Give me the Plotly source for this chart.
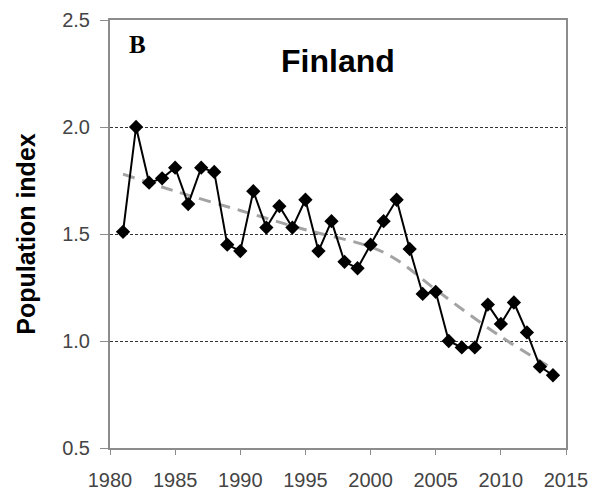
import plotly.graph_objects as go

# Annual population index for Finland
years = list(range(1981, 2015))
index_values = [1.51, 2.00, 1.74, 1.76, 1.81, 1.64, 1.81, 1.79, 1.45, 1.42,
                1.70, 1.53, 1.63, 1.53, 1.66, 1.42, 1.56, 1.37, 1.34, 1.45,
                1.56, 1.66, 1.43, 1.22, 1.23, 1.00, 0.97, 0.97, 1.17, 1.08,
                1.18, 1.04, 0.88, 0.84]

# Smoothed trend through the series
trend_years = [1981, 1985, 1990, 1995, 2000, 2002, 2005, 2010, 2014]
trend_values = [1.78, 1.70, 1.61, 1.52, 1.44, 1.38, 1.24, 1.02, 0.87]

x_ticks = [1980, 1985, 1990, 1995, 2000, 2005, 2010, 2015]
y_ticks = [0.5, 1.0, 1.5, 2.0, 2.5]

fig = go.Figure()

fig.add_trace(go.Scatter(
    x=trend_years, y=trend_values, mode="lines",
    line=dict(color="#a3a3a3", width=3, dash="12px,8px", shape="spline"),
    hoverinfo="skip", showlegend=False,
))

fig.add_trace(go.Scatter(
    x=years, y=index_values, mode="lines+markers",
    line=dict(color="black", width=2),
    marker=dict(symbol="diamond", size=11, color="black"),
    showlegend=False,
))

axis_common = dict(
    showline=True, mirror=True, linecolor="#8c8c8c", linewidth=2,
    ticks="outside", tickcolor="#8c8c8c", tickwidth=1,
    tickfont=dict(family="Liberation Sans, Arial", size=20, color="#444444"),
    zeroline=False, automargin=False,
)

fig.update_xaxes(
    range=[1980, 2015], tickvals=x_ticks, ticklen=5, ticklabelstandoff=8,
    showgrid=False, **axis_common,
)
fig.update_yaxes(
    range=[0.5, 2.5], tickvals=y_ticks, tickformat=".1f", ticklen=8,
    ticklabelstandoff=6,
    showgrid=True, gridcolor="#333333", gridwidth=1, griddash="3px,2px",
    title=dict(text="<b>Population index</b>", standoff=19,
               font=dict(family="Liberation Sans, Arial", size=25, color="black")),
    **axis_common,
)

fig.add_annotation(
    text="<b>Finland</b>", x=0.5, y=0.905, xref="paper", yref="paper",
    showarrow=False, xanchor="center", yanchor="middle",
    font=dict(family="Liberation Sans, Arial", size=32, color="black"),
)
fig.add_annotation(
    text="<b>B</b>", x=0.06, y=0.942, xref="paper", yref="paper",
    showarrow=False, xanchor="center", yanchor="middle",
    font=dict(family="Liberation Serif, Times New Roman", size=25, color="black"),
)

fig.update_layout(
    width=593, height=490,
    margin=dict(l=110, r=27, t=20, b=42),
    paper_bgcolor="white", plot_bgcolor="white",
)

fig.write_html("out.html")
